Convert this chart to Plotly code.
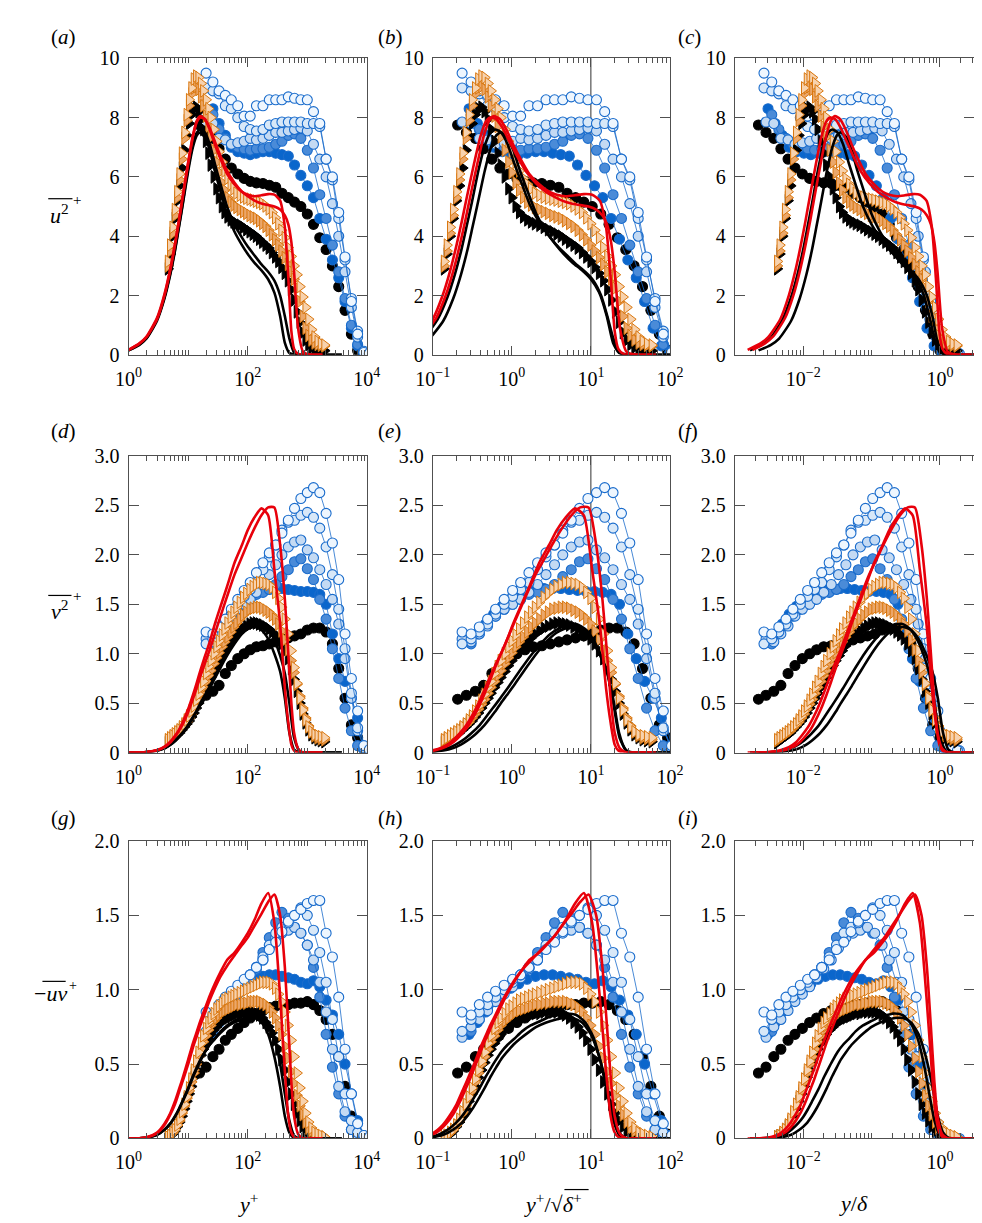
import math
import plotly.graph_objects as go

W_PX, H_PX = 982, 1223

# ---------------- data ----------------
# wall-normal positions y+ for each family of series
Y_LINE = [1, 1.5, 2, 3, 4, 5, 6, 7, 8, 10, 12, 14, 16, 19, 23, 28, 35, 45, 60, 80,
          100, 130, 170, 220, 280, 350, 420, 500, 600, 750, 1000, 1500, 2500, 3800]
Y_LINE_RED = [1, 1.5, 2, 3, 4, 5, 6, 7, 8, 10, 12, 14, 16, 19, 23, 28, 35, 45, 60, 80,
              100, 130, 170, 220, 280, 350, 420, 480, 540, 600, 700, 850, 1100, 1400, 1800]
Y_CIRC = [20, 26, 33, 42, 53, 68, 87, 110, 140, 180, 230, 295, 375, 480, 610, 780, 1000,
          1270, 1620, 2070, 2640, 3370, 4300, 5500, 7000, 8900, 11000, 13500]
Y_CIRC_B = Y_CIRC[1:]
Y_CIRC_BLK = [15.5, 20, 26, 33, 42, 53, 68, 87, 110, 140, 180, 230, 295, 375, 480, 610, 780,
              1000, 1270, 1620, 2070, 2640, 3370, 4300, 5500, 7000, 8900]
Y_TRI = [4.6, 5.0, 5.5, 6.0, 6.6, 7.2, 7.9, 8.7, 9.5, 10.4, 11.4, 12.5, 13.7, 15, 16.5, 18,
         20, 22, 24, 27, 30, 33, 37, 41, 46, 52, 58, 65, 74, 84, 95, 108, 122, 138, 156, 176,
         200, 226, 256, 290, 328, 370, 420, 475, 535, 600, 670, 750, 840, 940, 1050, 1180,
         1330, 1500, 1700, 1950]

# black solid lines
K1_U2 = [0.15, 0.33, 0.55, 1.15, 1.9, 2.7, 3.5, 4.3, 5.0, 6.2, 7.0, 7.4, 7.5, 7.35, 6.9, 6.2, 5.5, 4.75, 4.15, 3.7,
         3.4, 3.1, 2.85, 2.55, 2.1, 1.3, 0.4, 0.06, 0.01, 0, 0, 0, 0, 0]
K2_U2 = [0.15, 0.34, 0.57, 1.2, 1.95, 2.75, 3.55, 4.35, 5.05, 6.3, 7.1, 7.5, 7.6, 7.5, 7.1, 6.45, 5.75, 5.0, 4.4, 3.95,
         3.65, 3.35, 3.05, 2.8, 2.5, 2.0, 1.3, 0.55, 0.08, 0.01, 0, 0, 0, 0]
K1_V2 = [0, 0.002, 0.005, 0.02, 0.045, 0.08, 0.12, 0.16, 0.2, 0.28, 0.36, 0.43, 0.5, 0.58, 0.67, 0.77, 0.88, 1.0, 1.12, 1.21,
         1.25, 1.27, 1.24, 1.15, 1.0, 0.82, 0.55, 0.2, 0.03, 0.0, 0, 0, 0, 0]
K2_V2 = [0, 0.002, 0.005, 0.019, 0.043, 0.077, 0.115, 0.155, 0.195, 0.27, 0.35, 0.42, 0.48, 0.56, 0.65, 0.75, 0.86, 0.98, 1.1, 1.2,
         1.25, 1.29, 1.3, 1.25, 1.14, 0.98, 0.8, 0.5, 0.15, 0.01, 0, 0, 0, 0]
K1_UV = [0, 0.002, 0.006, 0.025, 0.06, 0.1, 0.15, 0.2, 0.25, 0.34, 0.42, 0.48, 0.53, 0.58, 0.63, 0.67, 0.71, 0.75, 0.78, 0.8,
         0.81, 0.81, 0.78, 0.7, 0.55, 0.35, 0.15, 0.04, 0.005, 0, 0, 0, 0, 0]
K2_UV = [0, 0.002, 0.006, 0.024, 0.058, 0.1, 0.145, 0.195, 0.245, 0.33, 0.41, 0.47, 0.52, 0.58, 0.63, 0.67, 0.72, 0.76, 0.79, 0.82,
         0.83, 0.84, 0.83, 0.78, 0.68, 0.5, 0.3, 0.12, 0.02, 0, 0, 0, 0, 0]

# red solid lines
R1_U2 = [0.17, 0.38, 0.62, 1.25, 2.05, 2.9, 3.75, 4.55, 5.3, 6.5, 7.4, 7.9, 8.05, 7.95, 7.6, 7.1, 6.6, 6.1, 5.75, 5.5,
         5.4, 5.35, 5.38, 5.42, 5.4, 5.2, 4.3, 2.6, 0.8, 0.2, 0.03, 0, 0, 0, 0]
R2_U2 = [0.17, 0.37, 0.6, 1.2, 2.0, 2.85, 3.7, 4.5, 5.25, 6.45, 7.35, 7.85, 8.0, 7.95, 7.65, 7.2, 6.7, 6.2, 5.8, 5.5,
         5.35, 5.2, 5.1, 5.05, 5.0, 4.9, 4.7, 4.4, 3.8, 2.8, 0.9, 0.1, 0.01, 0, 0]
R1_V2 = [0.0, 0.002, 0.006, 0.025, 0.06, 0.11, 0.17, 0.23, 0.3, 0.44, 0.58, 0.71, 0.83, 0.97, 1.12, 1.3, 1.48, 1.68, 1.92, 2.1,
         2.25, 2.38, 2.47, 2.4, 1.85, 1.3, 0.65, 0.3, 0.08, 0.02, 0, 0, 0, 0, 0]
R2_V2 = [0.0, 0.002, 0.006, 0.024, 0.055, 0.1, 0.16, 0.22, 0.28, 0.41, 0.54, 0.66, 0.77, 0.9, 1.04, 1.2, 1.38, 1.58, 1.8, 1.98,
         2.12, 2.27, 2.4, 2.48, 2.48, 2.1, 1.55, 1.0, 0.5, 0.2, 0.04, 0, 0, 0, 0]
R1_UV = [0.0, 0.002, 0.008, 0.04, 0.1, 0.17, 0.25, 0.33, 0.4, 0.53, 0.64, 0.72, 0.79, 0.87, 0.96, 1.04, 1.12, 1.2, 1.25, 1.32,
         1.38, 1.47, 1.58, 1.65, 1.45, 0.95, 0.45, 0.15, 0.04, 0.01, 0, 0, 0, 0, 0]
R2_UV = [0.0, 0.002, 0.007, 0.035, 0.09, 0.16, 0.23, 0.31, 0.38, 0.5, 0.61, 0.69, 0.76, 0.84, 0.93, 1.01, 1.09, 1.16, 1.23, 1.3,
         1.35, 1.43, 1.51, 1.59, 1.64, 1.5, 1.15, 0.75, 0.38, 0.15, 0.03, 0, 0, 0, 0]

# circles
C0_U2 = [7.75, 7.5, 7.3, 6.95, 6.6, 6.3, 6.1, 5.95, 5.85, 5.8, 5.78, 5.72, 5.65, 5.45, 5.3, 5.15, 5.0, 4.75, 4.4, 3.95,
         3.55, 3.0, 2.3, 1.5, 0.7, 0.15, 0.04]
C0_V2 = [0.54, 0.58, 0.62, 0.68, 0.8, 0.88, 0.95, 1.0, 1.04, 1.07, 1.08, 1.1, 1.12, 1.14, 1.16, 1.18, 1.2, 1.24, 1.26, 1.26,
         1.22, 1.1, 0.85, 0.55, 0.28, 0.15, 0.03]
C0_UV = [0.44, 0.48, 0.55, 0.6, 0.66, 0.7, 0.74, 0.78, 0.81, 0.84, 0.86, 0.88, 0.89, 0.9, 0.9, 0.91, 0.91, 0.92, 0.9, 0.86,
         0.8, 0.7, 0.55, 0.35, 0.15, 0.03, 0.0]
CD_U2 = [8.3, 7.8, 7.4, 7.0, 6.85, 6.8, 6.75, 6.8, 6.85, 6.85, 6.8, 6.75, 6.7, 6.4, 6.05, 5.7, 5.3, 4.6, 3.9, 3.2,
         2.6, 1.8, 0.9, 0.3, 0.05, 0.04, 0.03]
CD_V2 = [1.12, 1.2, 1.3, 1.4, 1.48, 1.55, 1.6, 1.63, 1.65, 1.66, 1.66, 1.66, 1.65, 1.64, 1.63, 1.63, 1.62, 1.6, 1.5, 1.2,
         0.95, 0.72, 0.55, 0.35, 0.06, 0.03, 0.02]
CD_UV = [0.7, 0.78, 0.85, 0.92, 0.97, 1.01, 1.04, 1.07, 1.09, 1.1, 1.1, 1.09, 1.08, 1.07, 1.05, 1.04, 1.06, 1.02, 0.93, 0.83,
         0.7, 0.5, 0.3, 0.12, 0.02, 0.0, 0.0]
CM_U2 = [8.1, 7.6, 7.3, 7.1, 7.0, 6.95, 6.9, 6.95, 6.95, 7.0, 7.1, 7.2, 7.4, 7.45, 7.3, 6.9, 6.3, 5.4, 4.6, 3.7,
         2.8, 1.9, 1.0, 0.35, 0.06, 0.04, 0.03]
CM_V2 = [1.1, 1.2, 1.3, 1.38, 1.45, 1.5, 1.55, 1.6, 1.62, 1.65, 1.7, 1.78, 1.85, 1.93, 1.96, 1.86, 1.75, 1.55, 1.35, 1.05,
         0.75, 0.45, 0.22, 0.07, 0.03, 0.02, 0.02]
CM_UV = [0.72, 0.8, 0.88, 0.94, 1.0, 1.05, 1.1, 1.15, 1.25, 1.35, 1.45, 1.52, 1.48, 1.42, 1.38, 1.3, 1.15, 0.95, 0.7, 0.48,
         0.3, 0.15, 0.06, 0.02, 0.0, 0.0, 0.0]
CL2_U2 = [7.85, 7.8, 7.3, 7.25, 7.1, 7.15, 7.2, 7.3, 7.25, 7.3, 7.4, 7.5, 7.5, 7.55, 7.6, 7.65, 7.55, 7.1, 6.6, 6.0,
          5.1, 4.0, 2.8, 1.6, 0.6, 0.1, 0.05, 0.04]
CL2_V2 = [1.15, 1.12, 1.2, 1.28, 1.38, 1.45, 1.5, 1.55, 1.62, 1.7, 1.8, 1.9, 2.0, 2.08, 2.13, 2.15, 2.05, 1.97, 1.85, 1.7,
          1.55, 1.3, 0.95, 0.55, 0.22, 0.05, 0.03, 0.02]
CL2_UV = [0.68, 0.75, 0.8, 0.86, 0.92, 0.97, 1.02, 1.08, 1.14, 1.2, 1.28, 1.35, 1.38, 1.4, 1.42, 1.38, 1.3, 1.2, 1.05, 0.85,
          0.6, 0.35, 0.18, 0.06, 0.02, 0.0, 0.0, 0.0]
CL1_U2 = [9.0, 8.9, 8.8, 8.4, 8.3, 8.0, 7.7, 7.6, 7.55, 7.6, 7.75, 7.8, 7.85, 7.85, 7.85, 7.85, 7.8, 7.8, 7.7, 6.6,
          5.9, 4.6, 3.2, 1.9, 0.8, 0.12, 0.06, 0.04]
CL1_V2 = [1.1, 1.15, 1.22, 1.3, 1.4, 1.5, 1.58, 1.65, 1.72, 1.85, 1.98, 2.1, 2.25, 2.33, 2.35, 2.4, 2.43, 2.38, 2.27, 2.08,
          1.8, 1.45, 1.05, 0.6, 0.25, 0.05, 0.03, 0.02]
CL1_UV = [0.72, 0.8, 0.85, 0.9, 0.95, 1.0, 1.05, 1.1, 1.15, 1.22, 1.3, 1.38, 1.42, 1.45, 1.5, 1.55, 1.5, 1.4, 1.25, 1.05,
          0.8, 0.55, 0.3, 0.12, 0.04, 0.01, 0.0, 0.0]
CW_U2 = [9.5, 9.2, 8.9, 8.75, 8.6, 8.4, 8.05, 8.05, 8.4, 8.4, 8.6, 8.6, 8.6, 8.7, 8.65, 8.6, 8.6, 8.2, 7.8, 6.6,
         6.0, 4.8, 3.3, 1.8, 0.7, 0.08, 0.05, 0.04]
CW_V2 = [1.22, 1.2, 1.27, 1.35, 1.45, 1.55, 1.64, 1.72, 1.82, 1.92, 2.02, 2.1, 2.22, 2.35, 2.47, 2.57, 2.63, 2.68, 2.63, 2.42,
         2.12, 1.75, 1.2, 0.75, 0.42, 0.07, 0.03, 0.02]
CW_UV = [0.85, 0.83, 0.9, 0.95, 0.99, 1.03, 1.07, 1.1, 1.15, 1.2, 1.27, 1.32, 1.39, 1.46, 1.5, 1.54, 1.58, 1.6, 1.6, 1.38,
         1.22, 0.95, 0.6, 0.3, 0.1, 0.02, 0.01, 0.0]

# triangles
T0_U2 = [2.9, 3.4, 4.0, 4.6, 5.2, 5.7, 6.3, 6.9, 7.4, 7.8, 8.1, 8.3, 8.35, 8.2, 7.95, 7.6, 7.2, 6.8, 6.4, 6.0,
         5.6, 5.3, 5.0, 4.8, 4.65, 4.55, 4.48, 4.42, 4.37, 4.3, 4.22, 4.15, 4.07, 4.0, 3.9, 3.8, 3.7, 3.6, 3.45, 3.3,
         3.15, 2.95, 2.75, 2.5, 2.2, 1.85, 1.45, 1.1, 0.75, 0.5, 0.35, 0.25, 0.2, 0.17, 0.15, 0.14]
T1_U2 = [3.15, 3.7, 4.3, 4.9, 5.5, 6.1, 6.8, 7.5, 8.1, 8.6, 9.0, 9.3, 9.4, 9.35, 9.15, 8.9, 8.6, 8.3, 8.0, 7.6,
         7.2, 6.85, 6.5, 6.2, 5.95, 5.75, 5.6, 5.45, 5.38, 5.32, 5.28, 5.25, 5.22, 5.18, 5.14, 5.1, 5.02, 4.92, 4.8, 4.62,
         4.42, 4.2, 3.95, 3.62, 3.32, 3.0, 2.7, 2.3, 1.95, 1.6, 1.2, 0.85, 0.6, 0.45, 0.37, 0.33]
T2_U2 = [3.0, 3.5, 4.1, 4.7, 5.3, 5.9, 6.6, 7.3, 7.9, 8.4, 8.8, 9.0, 9.05, 8.95, 8.7, 8.4, 8.05, 7.7, 7.35, 6.9,
         6.5, 6.15, 5.8, 5.55, 5.3, 5.15, 5.05, 4.97, 4.9, 4.83, 4.77, 4.7, 4.65, 4.6, 4.52, 4.43, 4.33, 4.2, 4.05, 3.88,
         3.7, 3.5, 3.28, 3.05, 2.8, 2.55, 2.25, 1.8, 1.3, 0.9, 0.65, 0.5, 0.4, 0.35, 0.32, 0.3]
T0_V2 = [0.1, 0.12, 0.14, 0.16, 0.18, 0.2, 0.23, 0.26, 0.29, 0.32, 0.36, 0.4, 0.45, 0.5, 0.55, 0.6, 0.66, 0.71, 0.76, 0.82,
         0.88, 0.93, 0.98, 1.03, 1.08, 1.12, 1.16, 1.2, 1.23, 1.26, 1.28, 1.3, 1.31, 1.31, 1.3, 1.29, 1.27, 1.25, 1.22, 1.19,
         1.15, 1.1, 1.03, 0.95, 0.85, 0.74, 0.62, 0.5, 0.39, 0.3, 0.23, 0.18, 0.15, 0.13, 0.12, 0.11]
T1_V2 = [0.13, 0.15, 0.17, 0.19, 0.21, 0.23, 0.26, 0.29, 0.33, 0.37, 0.42, 0.47, 0.53, 0.59, 0.66, 0.72, 0.8, 0.87, 0.93, 1.0,
         1.07, 1.13, 1.19, 1.25, 1.31, 1.37, 1.42, 1.47, 1.52, 1.57, 1.61, 1.65, 1.68, 1.7, 1.72, 1.72, 1.71, 1.7, 1.67, 1.62,
         1.56, 1.47, 1.35, 1.2, 1.03, 0.86, 0.7, 0.55, 0.43, 0.33, 0.26, 0.21, 0.18, 0.17, 0.16, 0.15]
T2_V2 = [0.12, 0.14, 0.16, 0.18, 0.2, 0.22, 0.25, 0.28, 0.31, 0.35, 0.39, 0.44, 0.49, 0.54, 0.6, 0.66, 0.72, 0.78, 0.83, 0.9,
         0.96, 1.01, 1.07, 1.12, 1.17, 1.22, 1.27, 1.31, 1.35, 1.39, 1.42, 1.45, 1.46, 1.47, 1.47, 1.46, 1.44, 1.42, 1.39, 1.35,
         1.3, 1.23, 1.14, 1.04, 0.93, 0.81, 0.69, 0.57, 0.45, 0.35, 0.27, 0.21, 0.17, 0.15, 0.14, 0.13]
T0_UV = [0.01, 0.02, 0.03, 0.05, 0.08, 0.11, 0.15, 0.2, 0.25, 0.3, 0.35, 0.41, 0.46, 0.51, 0.56, 0.6, 0.64, 0.67, 0.7, 0.73,
         0.75, 0.77, 0.79, 0.8, 0.81, 0.82, 0.83, 0.84, 0.84, 0.85, 0.85, 0.85, 0.85, 0.84, 0.83, 0.81, 0.78, 0.75, 0.71, 0.66,
         0.6, 0.53, 0.46, 0.38, 0.3, 0.23, 0.17, 0.12, 0.08, 0.05, 0.03, 0.02, 0.01, 0.01, 0.0, 0.0]
T1_UV = [0.01, 0.02, 0.04, 0.06, 0.09, 0.13, 0.18, 0.23, 0.28, 0.34, 0.4, 0.46, 0.52, 0.58, 0.64, 0.69, 0.74, 0.78, 0.81, 0.84,
         0.87, 0.89, 0.91, 0.93, 0.94, 0.95, 0.96, 0.97, 0.98, 0.99, 1.0, 1.01, 1.02, 1.03, 1.04, 1.05, 1.05, 1.05, 1.04, 1.01,
         0.97, 0.92, 0.85, 0.76, 0.66, 0.55, 0.44, 0.34, 0.25, 0.17, 0.11, 0.07, 0.04, 0.03, 0.02, 0.01]
T2_UV = [0.01, 0.02, 0.04, 0.06, 0.09, 0.12, 0.17, 0.22, 0.27, 0.32, 0.38, 0.44, 0.5, 0.55, 0.6, 0.65, 0.69, 0.73, 0.76, 0.79,
         0.81, 0.83, 0.85, 0.86, 0.87, 0.88, 0.89, 0.9, 0.9, 0.91, 0.91, 0.92, 0.92, 0.92, 0.92, 0.91, 0.9, 0.88, 0.85, 0.81,
         0.76, 0.7, 0.62, 0.54, 0.45, 0.37, 0.29, 0.22, 0.16, 0.11, 0.07, 0.05, 0.03, 0.02, 0.01, 0.01]

# outer-scaling divisors: column (b) uses y+/SB, column (c) uses y+/SC
SB = {"K1": 22, "K2": 26, "R1": 27, "R2": 30, "C0": 75, "CD": 90, "CM": 85, "CL2": 85, "CL1": 85, "CW": 85,
      "T0": 33, "T1": 33, "T2": 33}
SC = {"K1": 450, "K2": 600, "R1": 550, "R2": 650, "C0": 7000, "CD": 8500, "CM": 7500, "CL2": 7000, "CL1": 7500,
      "CW": 7500, "T0": 1100, "T1": 1100, "T2": 1100}

SERIES = [
    # key, y+, (u2, v2, uv)
    ("C0", Y_CIRC_BLK, (C0_U2, C0_V2, C0_UV)),
    ("CD", Y_CIRC_B, (CD_U2, CD_V2, CD_UV)),
    ("CM", Y_CIRC_B, (CM_U2, CM_V2, CM_UV)),
    ("CL2", Y_CIRC, (CL2_U2, CL2_V2, CL2_UV)),
    ("CL1", Y_CIRC, (CL1_U2, CL1_V2, CL1_UV)),
    ("CW", Y_CIRC, (CW_U2, CW_V2, CW_UV)),
    ("T0", Y_TRI, (T0_U2, T0_V2, T0_UV)),
    ("T2", Y_TRI, (T2_U2, T2_V2, T2_UV)),
    ("T1", Y_TRI, (T1_U2, T1_V2, T1_UV)),
    ("K1", Y_LINE, (K1_U2, K1_V2, K1_UV)),
    ("K2", Y_LINE, (K2_U2, K2_V2, K2_UV)),
    ("R1", Y_LINE_RED, (R1_U2, R1_V2, R1_UV)),
    ("R2", Y_LINE_RED, (R2_U2, R2_V2, R2_UV)),
]

# ---------------- styles ----------------
BLUE_EDGE = "#1a6ccc"
ORANGE_EDGE = "#d9770f"
STYLE = {
    "C0": dict(kind="circle", fill="#000000", edge="#000000", connect=False),
    "CD": dict(kind="circle", fill="#0a66cc", edge=BLUE_EDGE, connect=True),
    "CM": dict(kind="circle", fill="#4a8bd8", edge=BLUE_EDGE, connect=True),
    "CL2": dict(kind="circle", fill="#c4daf3", edge=BLUE_EDGE, connect=True),
    "CL1": dict(kind="circle", fill="#d8e8f8", edge=BLUE_EDGE, connect=True),
    "CW": dict(kind="circle", fill="#eef6fe", edge=BLUE_EDGE, connect=True),
    "T0": dict(kind="tri", fill="#000000", edge="#000000"),
    "T2": dict(kind="tri", fill="#eba76a", edge=ORANGE_EDGE),
    "T1": dict(kind="tri", fill="#f7d2ae", edge=ORANGE_EDGE),
    "K1": dict(kind="line", color="#000000"),
    "K2": dict(kind="line", color="#000000"),
    "R1": dict(kind="line", color="#e8000b"),
    "R2": dict(kind="line", color="#e8000b"),
}

COL_PX = [(107, 353), (421, 666), (733, 980)]
ROW_PX = [(40, 342), (445, 747), (837, 1140)]
X_RANGE = [(0, 4), (-1, 2), (-3, 0.5)]
X_MAJOR = [[1, 100, 10000], [0.1, 1, 10, 100], [0.01, 1]]
X_MAJOR_TXT = [["10<sup>0</sup>", "10<sup>2</sup>", "10<sup>4</sup>"],
               ["10<sup>\u22121</sup>", "10<sup>0</sup>", "10<sup>1</sup>", "10<sup>2</sup>"],
               ["10<sup>\u22122</sup>", "10<sup>0</sup>"]]
Y_RANGE = [(0, 10), (0, 3), (0, 2)]
Y_TICKS = [[0, 2, 4, 6, 8, 10], [0, 0.5, 1, 1.5, 2, 2.5, 3], [0, 0.5, 1, 1.5, 2]]
Y_TICK_TXT = [["0", "2", "4", "6", "8", "10"], ["0", "0.5", "1.0", "1.5", "2.0", "2.5", "3.0"],
              ["0", "0.5", "1.0", "1.5", "2.0"]]

FONT = "Liberation Serif, Times New Roman, Times, serif"
AX_COLOR = "#505050"


def minor_vals(lo, hi, majors):
    out = []
    for d in range(math.floor(lo), math.ceil(hi) + 1):
        for k in range(1, 10):
            v = k * 10.0 ** d
            lv = math.log10(v)
            if lo - 1e-9 <= lv <= hi + 1e-9 and not any(abs(v - m) / m < 1e-6 for m in majors):
                out.append(v)
    return out


def px(x, y):
    return x / W_PX, 1 - y / H_PX


fig = go.Figure()
layout = {}

for r in range(3):
    for c in range(3):
        n = r * 3 + c + 1
        sfx = "" if n == 1 else str(n)
        xa, ya = "x" + sfx, "y" + sfx
        l, rr = COL_PX[c]
        t, b = ROW_PX[r]
        layout["xaxis" + sfx] = dict(
            domain=[l / W_PX, rr / W_PX], anchor=ya, type="log",
            range=list(X_RANGE[c]), tickmode="array", tickvals=X_MAJOR[c], ticktext=X_MAJOR_TXT[c],
            ticks="inside", ticklen=9, tickwidth=1, tickcolor=AX_COLOR, ticklabelstandoff=6,
            minor=dict(tickmode="array", tickvals=minor_vals(*X_RANGE[c], X_MAJOR[c]),
                       ticks="inside", ticklen=5, tickwidth=1, tickcolor=AX_COLOR),
            showline=True, linecolor=AX_COLOR, linewidth=1, mirror="allticks",
            showgrid=False, zeroline=False,
            tickfont=dict(family=FONT, size=20, color="black"),
        )
        layout["yaxis" + sfx] = dict(
            domain=[1 - b / H_PX, 1 - t / H_PX], anchor=xa,
            range=list(Y_RANGE[r]), tickmode="array", tickvals=Y_TICKS[r], ticktext=Y_TICK_TXT[r],
            ticks="inside", ticklen=10, tickwidth=1, tickcolor=AX_COLOR, ticklabelstandoff=4,
            showline=True, linecolor=AX_COLOR, linewidth=1, mirror="allticks",
            showgrid=False, zeroline=False,
            tickfont=dict(family=FONT, size=20, color="black"),
        )
        for key, yp, vals in SERIES:
            div = [1.0, SB[key], SC[key]][c]
            xs = [v / div for v in yp]
            ys = vals[r]
            st = STYLE[key]
            if st["kind"] == "line":
                tr = go.Scatter(x=xs, y=ys, mode="lines",
                                line=dict(color=st["color"], width=2.6, shape="spline", smoothing=0.6))
            elif st["kind"] == "circle":
                tr = go.Scatter(x=xs, y=ys, mode="lines+markers" if st["connect"] else "markers",
                                line=dict(color=BLUE_EDGE, width=0.8),
                                marker=dict(symbol="circle", size=10, color=st["fill"],
                                            line=dict(color=st["edge"], width=1.1)))
            else:
                tr = go.Scatter(x=xs, y=ys, mode="markers",
                                marker=dict(symbol="triangle-right", size=11, color=st["fill"],
                                            line=dict(color=st["edge"], width=1)))
            tr.update(xaxis=xa, yaxis=ya, showlegend=False, hoverinfo="skip")
            fig.add_trace(tr)

shapes = []
# vertical reference line at y+/sqrt(delta+) = 10 in the middle column
for r in range(3):
    n = r * 3 + 2
    shapes.append(dict(type="line", xref="x%d" % n, yref="y%d domain" % n, x0=10, x1=10, y0=0, y1=1,
                       line=dict(color="#303030", width=1), layer="below"))

annotations = []
labels = ["a", "b", "c", "d", "e", "f", "g", "h", "i"]
lab_x = [25, 362, 672]
lab_y = [18, 420, 814]
for r in range(3):
    for c in range(3):
        x, y = px(lab_x[c], lab_y[r])
        annotations.append(dict(text="(<i>%s</i>)" % labels[r * 3 + c], x=x, y=y, xref="paper", yref="paper",
                                xanchor="left", yanchor="middle", showarrow=False,
                                font=dict(family=FONT, size=21, color="black")))


def add_text(text, xp, yp, size=22, xanchor="center"):
    x, y = px(xp, yp)
    annotations.append(dict(text=text, x=x, y=y, xref="paper", yref="paper", xanchor=xanchor,
                            yanchor="middle", showarrow=False, borderpad=0,
                            font=dict(family=FONT, size=size, color="black")))


def add_bar(x0, x1, yv):
    a0, b0 = px(x0, yv)
    a1, _ = px(x1, yv)
    shapes.append(dict(type="line", xref="paper", yref="paper", x0=a0, x1=a1, y0=b0, y1=b0,
                       line=dict(color="black", width=1.2)))


# y-axis titles
add_text("<i>u</i><sup>2</sup>", 36, 199)
add_bar(24, 49, 183)
add_text("+", 54, 184, size=15)
add_text("<i>v</i><sup>2</sup>", 36, 602)
add_bar(24, 48, 587)
add_text("+", 54, 588, size=15)
add_text("\u2212<i>uv</i>", 26, 992)
add_bar(18, 42, 980)
add_text("+", 50, 984, size=14)

# x-axis titles
add_text("<i>y</i><sup>+</sup>", 230, 1206)
add_text("<i>y</i><sup>+</sup>/\u221a<i>\u03b4</i><sup>+</sup>", 545, 1206)
add_bar(557, 582, 1192)
add_text("<i>y</i>/<i>\u03b4</i>", 856, 1206)

layout.update(dict(width=W_PX, height=H_PX, margin=dict(l=0, r=0, t=0, b=0),
                   paper_bgcolor="white", plot_bgcolor="white", shapes=shapes, annotations=annotations,
                   font=dict(family=FONT, size=20, color="black")))
fig.update_layout(**layout)
fig.write_html("out.html")
